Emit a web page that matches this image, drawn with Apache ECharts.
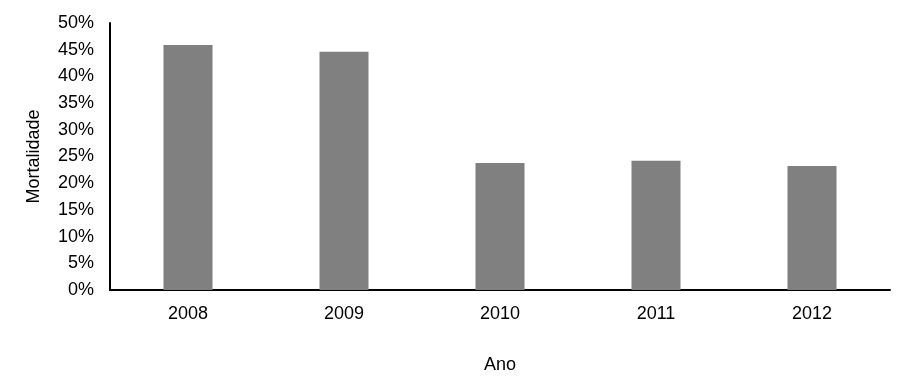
<!DOCTYPE html>
<html><head><meta charset="utf-8">
<script src="https://cdn.jsdelivr.net/npm/echarts@6/dist/echarts.min.js"></script>
<style>html,body{margin:0;padding:0;background:#fff}#c{width:915px;height:380px}</style>
</head><body><div id="c"></div>
<script>
var categories = ['2008', '2009', '2010', '2011', '2012'];
var mortalidade = [45.9, 44.6, 23.8, 24.2, 23.2];
var yTicks = [0, 5, 10, 15, 20, 25, 30, 35, 40, 45, 50];

var chart = echarts.init(document.getElementById('c'), null, {renderer: 'canvas'});
var font = '"Liberation Sans", Arial, sans-serif';
chart.setOption({
  animation: false,
  grid: {left: 110, right: 25, top: 23, bottom: 90, containLabel: false, outerBoundsMode: 'none'},
  xAxis: {
    type: 'category', data: categories,
    name: 'Ano', nameLocation: 'middle', nameGap: 66,
    nameTextStyle: {fontFamily: font, fontSize: 18, color: '#000'},
    axisLine: {lineStyle: {color: '#000', width: 2}},
    axisTick: {show: false},
    axisLabel: {fontFamily: font, fontSize: 18, color: '#000', margin: 15}
  },
  yAxis: {
    type: 'value', min: yTicks[0], max: yTicks[yTicks.length - 1], interval: 5,
    name: 'Mortalidade', nameLocation: 'middle', nameGap: 67,
    nameTextStyle: {fontFamily: font, fontSize: 18, color: '#000'},
    axisLine: {show: true, lineStyle: {color: '#000', width: 2}},
    axisTick: {show: false},
    splitLine: {show: false},
    axisLabel: {fontFamily: font, fontSize: 18, color: '#000', margin: 16, formatter: '{value}%'}
  },
  series: [{
    type: 'bar', data: mortalidade, barWidth: 49,
    itemStyle: {color: '#808080'}
  }]
});
</script></body></html>
